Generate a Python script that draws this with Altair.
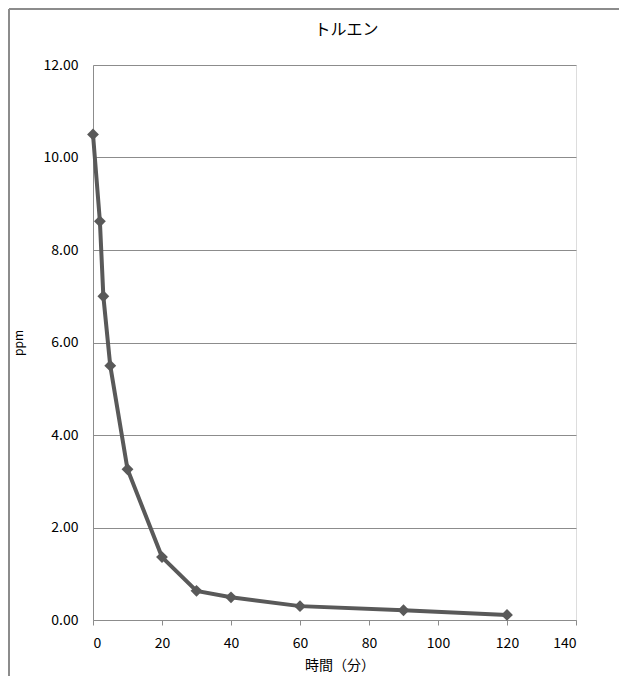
import altair as alt
import pandas as pd

minutes = [0, 2, 3, 5, 10, 20, 30, 40, 60, 90, 120]
ppm = [10.5, 8.62, 7.0, 5.5, 3.26, 1.36, 0.63, 0.49, 0.30, 0.21, 0.11]
x_ticks = [0, 20, 40, 60, 80, 100, 120, 140]
y_ticks = [0, 2, 4, 6, 8, 10, 12]
chart_title = "トルエン"

df = pd.DataFrame({"t": minutes, "v": ppm})

FONT = "Noto Sans CJK JP"
GRAY = "#8c8c8c"
LINE = "#595959"
W, H = 483, 555
PL, PT, PR, PB = 85, 57, 43, 56

x_enc = alt.X(
    "t:Q",
    scale=alt.Scale(domain=[0, 140], nice=False),
    axis=alt.Axis(
        values=x_ticks, grid=False, domainColor=GRAY, tickColor=GRAY, tickSize=5,
        labelFontSize=14, labelPadding=11, labelColor="#000000", labelFont=FONT,
        title="時間（分）", titleFont=FONT, titleFontSize=14, titleFontWeight="normal",
        titleColor="#000000", titleY=45, titleBaseline="middle", titleX=W / 2 + 5,
        titleAlign="center",
    ),
)
y_enc = alt.Y(
    "v:Q",
    scale=alt.Scale(domain=[0, 12], nice=False),
    axis=alt.Axis(
        values=y_ticks, format=".2f", grid=True, gridColor=GRAY, domainColor=GRAY,
        ticks=False, labelFontSize=14, labelPadding=15, labelColor="#000000", labelFont=FONT,
        title="ppm", titleFont=FONT, titleFontSize=12, titleFontWeight="normal",
        titleColor="#000000", titleAngle=-90, titleX=-75, titleY=H / 2,
        titleAlign="center", titleBaseline="middle",
    ),
)

line = alt.Chart(df).mark_line(color=LINE, strokeWidth=4).encode(x=x_enc, y=y_enc)
pts = alt.Chart(df).mark_point(shape="diamond", filled=True, size=140, color=LINE, opacity=1).encode(x="t:Q", y="v:Q")

one = pd.DataFrame({"a": [0]})
title_mark = alt.Chart(one).mark_text(
    font=FONT, fontSize=16, color="#000000", align="center", baseline="middle"
).encode(x=alt.value(W / 2 + 12), y=alt.value(-35), text=alt.value(chart_title))

border_left = alt.Chart(one).mark_rule(color=GRAY, strokeWidth=2).encode(
    x=alt.value(-PL + 1), y=alt.value(-PT + 1), y2=alt.value(H + PB)
)
border_top = alt.Chart(one).mark_rule(color=GRAY, strokeWidth=2).encode(
    x=alt.value(-PL + 1), x2=alt.value(W + PR), y=alt.value(-PT + 1)
)

chart = alt.layer(line, pts, title_mark, border_left, border_top).properties(
    width=W, height=H,
    autosize=alt.AutoSizeParams(type="none"),
    padding={"left": PL, "top": PT, "right": PR, "bottom": PB},
).configure_view(stroke=None).configure(background="white")

chart.save("out.html", embed_options={"renderer": "svg", "actions": False})
